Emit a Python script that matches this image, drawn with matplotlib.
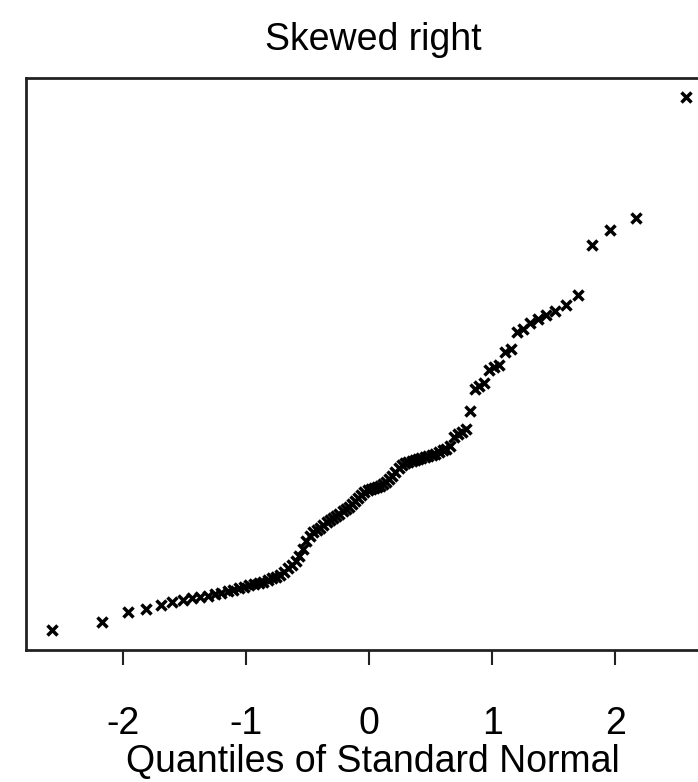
import matplotlib
matplotlib.use("Agg")
import matplotlib.pyplot as plt
from statistics import NormalDist

# sorted sample values
sample = [
    2.0, 2.8, 3.8, 4.1, 4.5, 4.8, 5.0, 5.2, 5.3, 5.4,
    5.6, 5.7, 5.9, 6.0, 6.2, 6.3, 6.5, 6.6, 6.7, 6.8,
    7.0, 7.2, 7.3, 7.5, 7.8, 8.2, 8.5, 8.9, 9.4, 10.1,
    10.9, 11.4, 11.8, 12.0, 12.2, 12.5, 12.8, 13.0, 13.2, 13.4,
    13.6, 13.9, 14.1, 14.3, 14.6, 14.9, 15.2, 15.5, 15.8, 16.0,
    16.1, 16.2, 16.3, 16.4, 16.6, 16.8, 17.1, 17.4, 17.8, 18.2,
    18.5, 18.7, 18.8, 18.9, 19.0, 19.1, 19.2, 19.3, 19.4, 19.5,
    19.6, 19.8, 20.0, 20.1, 20.4, 21.3, 21.6, 21.8, 22.1, 23.9,
    26.1, 26.4, 26.7, 28.0, 28.3, 28.5, 29.8, 30.1, 31.8, 32.1,
    32.7, 33.1, 33.5, 33.9, 34.5, 35.5, 40.5, 42.0, 43.2, 55.3,
]
xticks = [-2, -1, 0, 1, 2]

# theoretical normal quantiles, same plotting positions as R's qqnorm
n = len(sample)
quant = [NormalDist().inv_cdf((i + 0.5) / n) for i in range(n)]

plt.rcParams["font.family"] = ["Liberation Sans", "DejaVu Sans"]

fig = plt.figure(figsize=(6.98, 7.82), dpi=100)
ax = fig.add_axes([26 / 698, 132 / 782, 694 / 698, 572 / 782])

ax.plot(quant, sample, linestyle="none", marker="x", markersize=6.5,
        markeredgewidth=2.5, color="black")

ax.set_xlim(-2.789, 2.853)
ax.set_ylim(0, 57.2)
ax.set_xticks(xticks)
ax.set_xticklabels([str(t) for t in xticks])
ax.set_yticks([])

for s in ax.spines.values():
    s.set_linewidth(2)
    s.set_color("#222222")
ax.tick_params(axis="x", direction="out", length=11, width=1.5,
               color="#222222", labelsize=27, pad=29)

ax.set_title("Skewed right", fontsize=27, pad=20)
ax.set_xlabel("Quantiles of Standard Normal", fontsize=27, labelpad=2)

fig.savefig("out.png", dpi=100)
